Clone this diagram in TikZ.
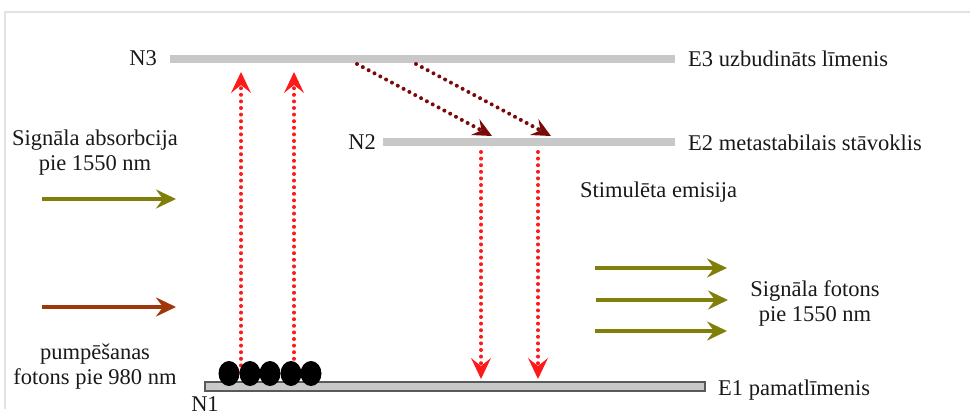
\documentclass[tikz,border=0pt]{standalone}
\usepackage{fontspec}
\setmainfont{Liberation Serif}
\usetikzlibrary{arrows.meta,shapes.geometric}
\definecolor{levelgray}{HTML}{C8C8C8}
\definecolor{framegray}{HTML}{E2E2E2}
\definecolor{olivearrow}{HTML}{7F7F0A}
\definecolor{pumpbrown}{HTML}{A0360A}
\definecolor{decayred}{HTML}{7A0A0A}
\definecolor{dotred}{HTML}{FF1A1A}
\tikzset{
  lbl/.style={font=\fontsize{22.5}{25}\selectfont, inner sep=0pt, text=black!90},
  lblc/.style={lbl, align=center},
  level/.style={levelgray, line width=8pt},
  photon/.style={line width=4.5pt, -{Stealth[length=20pt,width=19pt,inset=7pt]}},
  dotline/.style={line width=4pt, line cap=round, dash pattern=on 0pt off 6.6pt},
  pumparrow/.style={dotline, dotred, -{Stealth[length=21pt,width=20pt,inset=8pt,line width=0pt]}},
  decayarrow/.style={dotline, decayred, -{Stealth[length=19pt,width=18pt,inset=7pt,line width=0pt]}},
  ion/.style={ellipse, fill=black, minimum width=21pt, minimum height=25pt, inner sep=0pt},
}
\begin{document}
\begin{tikzpicture}[x=1pt,y=-1pt]
\useasboundingbox (0,0) rectangle (970,415);
% outer frame
\draw[framegray, line width=2pt] (5,409) -- (5,12) -- (975,12);

% energy levels
\draw[level] (170,59) -- (675,59);
\draw[level] (383,142) -- (675,142);
\draw[fill=levelgray, draw=black!65, line width=1.6pt] (205,382) rectangle (705,391);

% level labels
\node[lbl, anchor=east] (n3) at (157,58) {N3};
\node[lbl, anchor=west] (e3) at (688,59) {E3 uzbudināts līmenis};
\node[lbl, anchor=east] (n2) at (376,142) {N2};
\node[lbl, anchor=west] (e2) at (688,143) {E2 metastabilais stāvoklis};
\node[lbl, anchor=west] (e1) at (718,390) {E1 pamatlīmenis};
\node[lbl, anchor=base] (n1) at (205,411) {N1};
\node[lbl, anchor=west] (stim) at (580,192) {Stimulēta emisija};

% side texts
\node[lblc] (absorb) at (95,153) {Signāla absorbcija\\pie 1550 nm};
\node[lblc] (pumptxt) at (95,367) {pumpēšanas\\fotons pie 980 nm};
\node[lblc] (sigout) at (815,303) {Signāla fotons\\pie 1550 nm};

% incoming and outgoing photons
\coordinate (a1s) at (42,199);  \coordinate (a1e) at (176,199);
\coordinate (p1s) at (42,307);  \coordinate (p1e) at (176,307);
\draw[photon, olivearrow] (a1s) -- (a1e);
\draw[photon, pumpbrown] (p1s) -- (p1e);
\coordinate (o1s) at (595,268); \coordinate (o1e) at (727,268);
\coordinate (o2s) at (596,300); \coordinate (o2e) at (728,300);
\coordinate (o3s) at (595,331); \coordinate (o3e) at (727,331);
\draw[photon, olivearrow] (o1s) -- (o1e);
\draw[photon, olivearrow] (o2s) -- (o2e);
\draw[photon, olivearrow] (o3s) -- (o3e);

% pumping from E1 to E3
\coordinate (u1s) at (241,372); \coordinate (u1e) at (241,72);
\coordinate (u2s) at (294,372); \coordinate (u2e) at (294,72);
\draw[pumparrow] (u1s) -- (u1e);
\draw[pumparrow] (u2s) -- (u2e);

% non-radiative decay E3 -> E2
\coordinate (d1s) at (357,64); \coordinate (d1e) at (492,136);
\coordinate (d2s) at (416,64); \coordinate (d2e) at (551,136);
\draw[decayarrow] (d1s) -- (d1e);
\draw[decayarrow] (d2s) -- (d2e);

% stimulated emission E2 -> E1
\coordinate (s1s) at (481,152); \coordinate (s1e) at (481,379);
\coordinate (s2s) at (538,152); \coordinate (s2e) at (538,379);
\draw[pumparrow] (s1s) -- (s1e);
\draw[pumparrow] (s2s) -- (s2e);

% erbium ions on the ground level
\foreach \x [count=\i] in {229,250,270,291,311}
  \node[ion] (ion\i) at (\x,373.5) {};
\end{tikzpicture}
\end{document}
